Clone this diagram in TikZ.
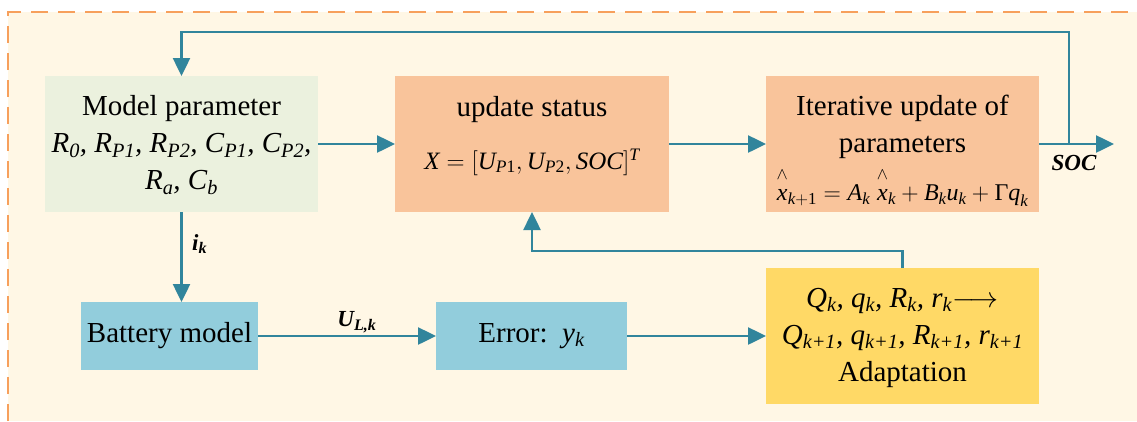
\RequirePackage{fix-cm}
\documentclass[tikz,border=0pt]{standalone}
\usepackage{amsmath}
\usepackage{fontspec}
\setmainfont{Liberation Serif}
\usetikzlibrary{arrows.meta}
\definecolor{bgc}{HTML}{FFF7E5}
\definecolor{dashc}{HTML}{F7A05C}
\definecolor{teal}{HTML}{31859C}
\definecolor{greenbox}{HTML}{EBF1DE}
\definecolor{orangebox}{HTML}{F9C49B}
\definecolor{bluebox}{HTML}{92CDDC}
\definecolor{yellowbox}{HTML}{FFD966}
\newcommand\ti[1]{\textit{#1}}
\newcommand\tr[1]{\textrm{#1}}
\newcommand\hatx{{\overset{\wedge}{\vphantom{A}\ti{x}}}}
\begin{document}
\begin{tikzpicture}[x=1pt,y=-1pt,
  box/.style={inner sep=0pt,outer sep=0pt,draw=none},
  txt/.style={font=\fontsize{29}{37}\selectfont,align=center,inner sep=0pt,text=black},
  frm/.style={font=\fontsize{25}{30}\selectfont,inner sep=0pt,text=black},
  lbl/.style={font=\fontsize{23}{27}\selectfont\bfseries\itshape,inner sep=0pt,text=black},
  arr/.style={draw=teal,line width=2.5pt,-{Triangle[length=18pt,width=17pt]}},
  ln/.style={draw=teal,line width=2.5pt}]
\useasboundingbox (0,0) rectangle (1137,421);
\fill[bgc] (8,12) rectangle (1137,421);
\draw[dashc,line width=2.5pt,dash pattern=on 17pt off 10pt] (8,421) -- (8,12) -- (1137,12);

% boxes
\node[box,fill=greenbox,minimum width=273pt,minimum height=136pt] (mp) at (181.5,144) {};
\node[box,fill=orangebox,minimum width=274pt,minimum height=136pt] (us) at (532,144) {};
\node[box,fill=orangebox,minimum width=273pt,minimum height=136pt] (it) at (902.5,144) {};
\node[box,fill=bluebox,minimum width=177pt,minimum height=68pt] (bm) at (169.5,336) {};
\node[box,fill=bluebox,minimum width=191pt,minimum height=68pt] (er) at (531.5,336) {};
\node[box,fill=yellowbox,minimum width=273pt,minimum height=136pt] (ad) at (902.5,336) {};

% texts
\node[txt] (mpt) at (181.5,145) {Model parameter\\
  \ti{R\textsubscript{0}, R\textsubscript{P1}, R\textsubscript{P2}, C\textsubscript{P1}, C\textsubscript{P2},}\\
  \ti{R\textsubscript{a}, C\textsubscript{b}}};
\node[txt] (ust) at (532,110) {update status};
\node[frm] (usf) at (532,162) {$\ti{X} = [\ti{U}_{\ti{P}\tr{1}},\ti{U}_{\ti{P}\tr{2}},\ti{SOC}]^{\ti{T}}$};
\node[txt] (itt) at (902.5,127) {Iterative update of\\parameters};
\node[frm,font=\fontsize{24}{30}\selectfont] (itf) at (902.5,187) {$\hatx_{\ti{k}+\tr{1}} = \ti{A}_{\ti{k}}\;\hatx_{\ti{k}} + \ti{B}_{\ti{k}}\ti{u}_{\ti{k}} + \tr{Γ}\ti{q}_{\ti{k}}$};
\node[txt] (bmt) at (169.5,336) {Battery model};
\node[txt] (ert) at (531.5,336) {Error:\ \ \ti{y\textsubscript{k}}};
\node[txt] (adt) at (902.5,338) {\ti{Q\textsubscript{k}, q\textsubscript{k}, R\textsubscript{k}, r\textsubscript{k}}$\longrightarrow$\\
  \ti{Q\textsubscript{k+1}, q\textsubscript{k+1}, R\textsubscript{k+1}, r\textsubscript{k+1}}\\
  Adaptation};

% connectors
\coordinate (out) at (1114,144);
\coordinate (tap) at (1069,144);
\coordinate (top) at (1069,32);
\draw[arr] (mp.east) -- (us.west);
\draw[arr] (us.east) -- (it.west);
\draw[arr] (it.east) -- (out);
\draw[arr] (tap) -- (top) -| (mp.north);
\draw[arr] (mp.south) -- (mp.south |- bm.north);
\draw[arr] (bm.east) -- (er.west);
\draw[arr] (er.east) -- (ad.west);
\draw[arr] (ad.north) -- ++(0,-17) -| (us.south);

% labels
\node[lbl,anchor=west] (ik) at (192,244) {i\textsubscript{k}};
\node[lbl] (ul) at (357,322) {U\textsubscript{L,k}};
\node[lbl] (soc) at (1074,163) {SOC};
\end{tikzpicture}
\end{document}
